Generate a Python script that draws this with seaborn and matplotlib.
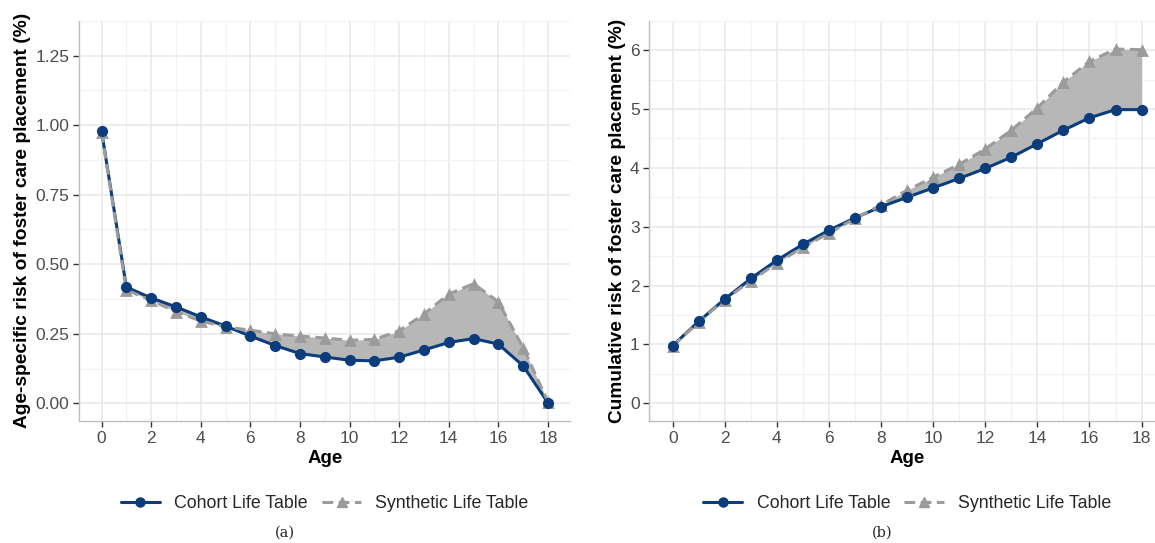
import numpy as np
import pandas as pd
import matplotlib
matplotlib.use("Agg")
import matplotlib.pyplot as plt
from matplotlib.lines import Line2D
import seaborn as sns

ages = list(range(19))
age_cohort = [0.98, 0.418, 0.379, 0.347, 0.311, 0.278, 0.242, 0.208, 0.179, 0.167,
              0.155, 0.153, 0.166, 0.192, 0.219, 0.233, 0.213, 0.135, 0.002]
age_synth = [0.975, 0.408, 0.370, 0.330, 0.296, 0.275, 0.263, 0.250, 0.242, 0.235,
             0.227, 0.230, 0.261, 0.321, 0.393, 0.430, 0.365, 0.200, 0.006]
cum_cohort = [0.98, 1.39, 1.77, 2.12, 2.43, 2.70, 2.94, 3.15, 3.34, 3.50,
              3.66, 3.82, 3.99, 4.18, 4.41, 4.64, 4.85, 4.99, 4.99]
cum_synth = [0.97, 1.38, 1.76, 2.08, 2.38, 2.65, 2.89, 3.14, 3.37, 3.62,
             3.84, 4.06, 4.32, 4.64, 5.02, 5.46, 5.81, 6.02, 6.01]

series_names = ["Cohort Life Table", "Synthetic Life Table"]
ylabels = ["Age-specific risk of foster care placement (%)",
           "Cumulative risk of foster care placement (%)"]
xlabel = "Age"
captions = ["(a)", "(b)"]

BLUE = "#0B3D7C"
GREY = "#9B9B9B"
FILL = "#B7B7B7"

sns.set_theme(style="white")
plt.rcParams['font.family'] = ['Liberation Sans', 'DejaVu Sans']

fig = plt.figure(figsize=(11.55, 5.43), dpi=100)
W, H = 1155, 543
ax1 = fig.add_axes([79.2 / W, 1 - 420.8 / H, (570.3 - 79.2) / W, 400 / H])
ax2 = fig.add_axes([649.3 / W, 1 - 420.8 / H, (1165 - 649.3) / W, 400 / H])

panels = [
    (ax1, age_cohort, age_synth, [0, 0.25, 0.5, 0.75, 1.0, 1.25],
     ["0.00", "0.25", "0.50", "0.75", "1.00", "1.25"], 1.25),
    (ax2, cum_cohort, cum_synth, [0, 1, 2, 3, 4, 5, 6],
     ["0", "1", "2", "3", "4", "5", "6"], 6.0),
]

for i, (ax, coh, syn, yt, ytl, ymax) in enumerate(panels):
    df = pd.DataFrame({"Age": ages, "Cohort": coh, "Synthetic": syn})
    ax.fill_between(df["Age"], df["Cohort"], df["Synthetic"], color=FILL, lw=0, zorder=1)
    sns.lineplot(data=df, x="Age", y="Cohort", ax=ax, color=BLUE, lw=2.2, zorder=2)
    sns.lineplot(data=df, x="Age", y="Synthetic", ax=ax, color=GREY, lw=2.2,
                 dashes=False, zorder=3)
    ax.lines[-1].set_linestyle((0, (3.5, 1.8)))
    sns.scatterplot(data=df, x="Age", y="Synthetic", ax=ax, color=GREY, marker="^",
                    s=85, linewidth=0, zorder=4)
    sns.scatterplot(data=df, x="Age", y="Cohort", ax=ax, color=BLUE, marker="o",
                    s=65, linewidth=0, zorder=5)

    ax.set_xlim(-0.9, 18.9)
    ax.set_ylim(-0.05 * ymax, 1.05 * ymax)
    ax.set_xticks(range(0, 19, 2))
    ax.set_xticks(range(1, 19, 2), minor=True)
    ax.set_yticks(yt)
    ax.set_yticklabels(ytl)
    ax.set_yticks([v + (yt[1] - yt[0]) / 2 for v in yt], minor=True)
    ax.grid(True, which="major", color="#E8E8E8", lw=1.1, zorder=0)
    ax.grid(True, which="minor", color="#F2F2F2", lw=0.9, zorder=0)
    ax.set_axisbelow(True)
    for s in ["top", "right"]:
        ax.spines[s].set_visible(False)
    for s in ["left", "bottom"]:
        ax.spines[s].set_color("#BEBEBE")
        ax.spines[s].set_linewidth(1.0)
    ax.tick_params(which="major", direction="out", length=4, width=1, color="#333333",
                   labelsize=12.5, labelcolor="#4D4D4D", pad=3, left=True, bottom=True)
    ax.tick_params(which="minor", length=0)
    ax.set_xlabel(xlabel, fontsize=13.5, fontweight="bold", color="black", labelpad=3)
    ax.set_ylabel(ylabels[i], fontsize=13.8, fontweight="bold", color="black", labelpad=3)

    handles = [
        Line2D([], [], color=BLUE, lw=2.2, marker="o", markersize=6.5),
        Line2D([], [], color=GREY, lw=2.2, ls=(0, (3.5, 1.8)), marker="^", markersize=7.5),
    ]
    pos = ax.get_position()
    cx = (pos.x0 + pos.x1) / 2
    fig.legend(handles, series_names, loc="center", bbox_to_anchor=(cx, 1 - 504 / H),
               ncol=2, frameon=False, fontsize=12.8, handlelength=2.2,
               handletextpad=0.8, columnspacing=0.8)

fig.text(285 / W, 1 - 533 / H, captions[0], ha="center", va="center",
         fontsize=10.5, family="DejaVu Serif")
fig.text(882 / W, 1 - 533 / H, captions[1], ha="center", va="center",
         fontsize=10.5, family="DejaVu Serif")

fig.savefig("out.png", dpi=100)
